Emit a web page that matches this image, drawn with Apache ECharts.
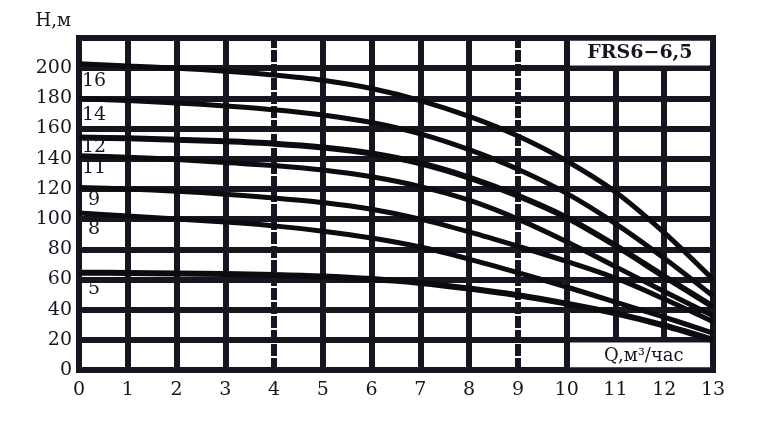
<!DOCTYPE html>
<html><head><meta charset="utf-8">
<script src="https://cdn.jsdelivr.net/npm/echarts@6/dist/echarts.min.js"></script>
<style>html,body{margin:0;padding:0;background:#fff}#c{width:765px;height:439px}</style>
</head><body><div id="c"></div>
<script>
// ---- data ----
const qTicks = [0,1,2,3,4,5,6,7,8,9,10,11,12,13];
const dashedQ = [4, 9];
const hTicks = [0,20,40,60,80,100,120,140,160,180,200];
const curveNames = ['16','14','12','11','9','8','5'];
const h16 = [203,201.5,200,198,195.5,192,186.5,178.5,168,155,138.5,118,91,60];
const h14 = [180,178.5,177,175,172.5,169,164,156.5,146,133,117,97,74,49];
const h12 = [154,153.5,152.5,151.5,150,147.5,143.5,137,127.5,115.5,101,82.5,62,42];
const h11 = [142,141,139.5,137.5,135.5,132.5,128,121.5,112.5,100,85,68.5,52,36];
const h9  = [121,120,118.5,116.5,114,111,106.5,100,91.5,82,72,61,47,32];
const h8  = [104,102,100,98,95.5,92,87.5,81.5,73.5,64.5,55,45,35,24.5];
const h5  = [64.5,64.3,64,63.6,63,62,60.3,57.7,54,49.5,44,37.5,29.5,20];
const curves = [h16,h14,h12,h11,h9,h8,h5];
const boxTitle = 'FRS6\u22126,5';
const xName = 'Q,м\u00B3/час';
const yName = 'H,м';

// ---- styles ----
const INK = '#161621';
const CURVE = '#0b0b10';
const FONT = "'DejaVu Serif', 'Liberation Serif', serif";
const labelDy = {'16':17,'14':17,'12':9,'11':12,'9':13,'8':16,'5':16};
const curveW = {'16':5,'14':5,'12':6,'11':5,'9':5,'8':5,'5':6};

const chart = echarts.init(document.getElementById('c'));
const series = curves.map((h, k) => ({
  type: 'line', name: curveNames[k], z: 3,
  data: qTicks.map((q, i) => [q, h[i]]),
  smooth: 0.3, showSymbol: false, silent: true,
  lineStyle: {color: CURVE, width: curveW[curveNames[k]]},
  markPoint: {
    z: 4, silent: true,
    data: [{coord: [qTicks[0], h[0]], symbol: 'circle', symbolSize: 0,
      label: {show: true, position: 'inside', formatter: curveNames[k],
        offset: [15, labelDy[curveNames[k]]], color: INK, fontFamily: FONT, fontSize: 19}}]
  }
}));
series.unshift({
  type: 'line', data: [], silent: true,
  markLine: {
    z: 1, silent: true, symbol: ['none','none'], label: {show: false},
    lineStyle: {color: INK, width: 6},
    data: qTicks.filter(v => v > qTicks[0] && v < qTicks[qTicks.length-1]).map(v => ({
      xAxis: v,
      lineStyle: {color: INK, width: 6, type: dashedQ.includes(v) ? [12,2] : 'solid'}
    }))
  },
  markArea: {
    z: 2, silent: true,
    itemStyle: {color: '#ffffff', opacity: 1},
    data: [
      [{coord: [10.07, 201.8], label: {show: true, position: 'inside', formatter: boxTitle,
          color: INK, fontFamily: FONT, fontWeight: 'bold', fontSize: 19}},
       {coord: [12.93, 218.2]}],
      [{coord: [10.07, 1.8], label: {show: true, position: 'inside', formatter: xName,
          color: INK, fontFamily: FONT, fontSize: 18, offset: [4, 1]}},
       {coord: [12.93, 18.2]}]
    ]
  }
});

chart.setOption({
  animation: false,
  backgroundColor: '#fff',
  grid: {left: 79, right: 52, top: 38, bottom: 69, show: true, borderWidth: 6, borderColor: INK, backgroundColor: '#fff'},
  xAxis: {
    type: 'value', min: qTicks[0], max: qTicks[qTicks.length-1], interval: 1,
    axisLine: {show: false}, axisTick: {show: false}, splitLine: {show: false},
    axisLabel: {color: INK, fontFamily: FONT, fontSize: 19, margin: 11}
  },
  yAxis: {
    type: 'value', min: 0, max: 220, interval: 20,
    name: yName, nameLocation: 'end', nameGap: 8,
    nameTextStyle: {color: INK, fontFamily: FONT, fontSize: 18, align: 'right', padding: [0, 8, 0, 0]},
    axisLine: {show: false}, axisTick: {show: false},
    splitLine: {lineStyle: {color: INK, width: 6}},
    axisLabel: {color: INK, fontFamily: FONT, fontSize: 19, margin: 7,
      formatter: v => hTicks.includes(v) ? String(v) : ''}
  },
  series: series
});
</script></body></html>
